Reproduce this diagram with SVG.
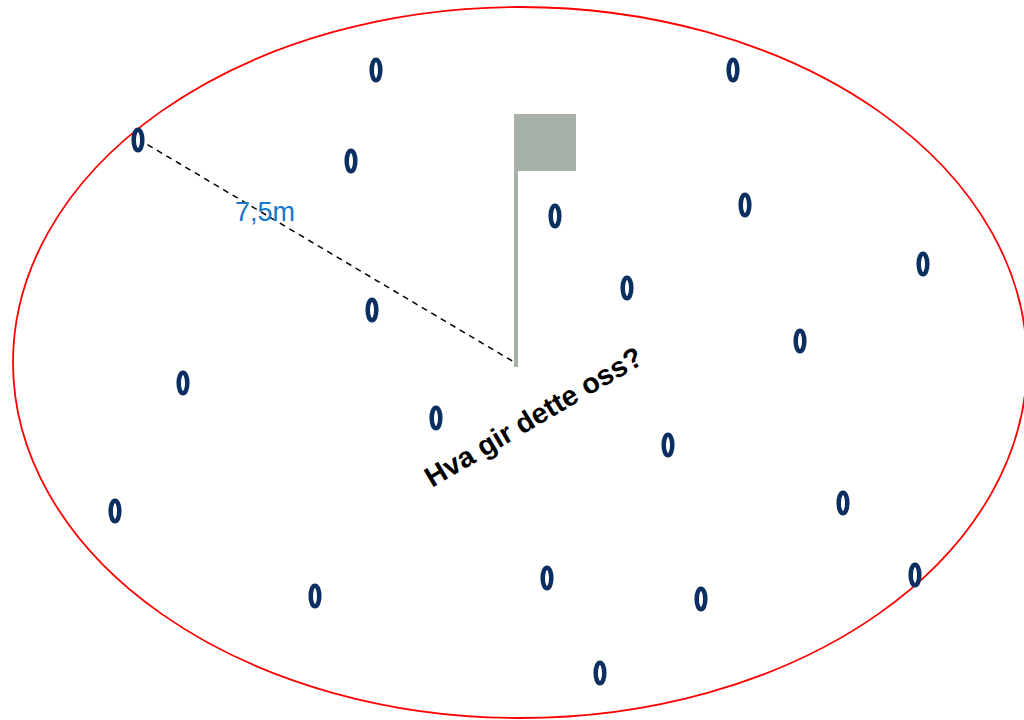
<svg xmlns="http://www.w3.org/2000/svg" width="1024" height="720" viewBox="0 0 1024 720">
<style>
.ring{fill:#ffffff;stroke:#0b2f60;stroke-width:4.5}
.lbl{font-family:"Liberation Sans",Arial,sans-serif}
</style>
<defs>
<ellipse id="r" class="ring" cx="0" cy="0" rx="4.3" ry="10.3"/>
</defs>
<rect width="1024" height="720" fill="#ffffff"/>
<g id="area"><ellipse cx="520" cy="362.5" rx="507" ry="355.5" fill="none" stroke="#ff0000" stroke-width="1.8"/></g>
<g id="connectors"><line x1="138" y1="139" x2="514" y2="362" stroke="#000" stroke-width="1.5" stroke-dasharray="6,5"/></g>
<g id="flag"><rect x="514" y="114" width="4" height="253" fill="#a7b1a8"/><rect x="514" y="114" width="62" height="57" fill="#a7b1a8"/></g>
<g id="rings">
<use href="#r" x="376" y="70"/>
<use href="#r" x="733" y="70"/>
<use href="#r" x="138" y="140"/>
<use href="#r" x="351" y="161"/>
<use href="#r" x="555" y="216"/>
<use href="#r" x="745" y="205"/>
<use href="#r" x="923" y="264"/>
<use href="#r" x="627" y="288"/>
<use href="#r" x="372" y="310"/>
<use href="#r" x="800" y="341"/>
<use href="#r" x="183" y="383"/>
<use href="#r" x="436" y="418"/>
<use href="#r" x="668" y="445"/>
<use href="#r" x="115" y="511"/>
<use href="#r" x="843" y="503"/>
<use href="#r" x="547" y="578"/>
<use href="#r" x="315" y="596"/>
<use href="#r" x="701" y="599"/>
<use href="#r" x="915" y="575"/>
<use href="#r" x="600" y="673"/>
</g>
<g id="label-dist"><text class="lbl" x="235" y="221" font-size="27" fill="#1877c9">7,5m</text></g>
<g id="label-q"><text class="lbl" transform="translate(432,488) rotate(-30.5)" font-size="28.5" font-weight="bold" fill="#000">Hva gir dette oss?</text></g>
</svg>
